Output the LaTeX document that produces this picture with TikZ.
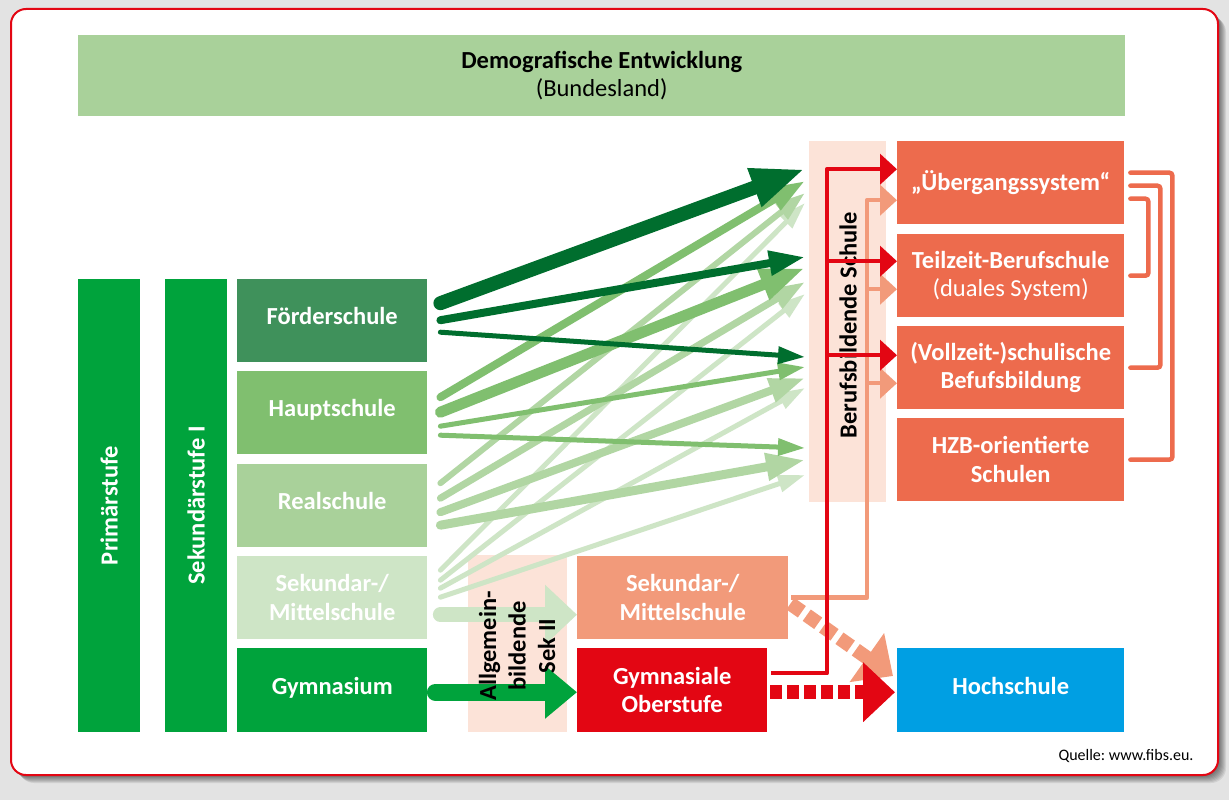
\documentclass[tikz,border=0pt]{standalone}
\usepackage{fontspec}
\setmainfont{Carlito}
\usetikzlibrary{arrows.meta,calc}
\frenchspacing

\definecolor{bggray}{HTML}{E3E3E3}
\definecolor{framered}{HTML}{E30613}
\definecolor{topgreen}{HTML}{A9D19A}
\definecolor{mgreen}{HTML}{00A33C}
\definecolor{fgreen}{HTML}{3F915B}
\definecolor{hgreen}{HTML}{80BF6F}
\definecolor{rgreen}{HTML}{A9D19A}
\definecolor{sgreen}{HTML}{CEE5C6}
\definecolor{adark}{HTML}{006E2E}
\definecolor{areal}{HTML}{B1D6A3}
\definecolor{peach}{HTML}{FCE3D8}
\definecolor{salmon}{HTML}{F29A7A}
\definecolor{rred}{HTML}{E30613}
\definecolor{orng}{HTML}{ED6B4D}
\definecolor{hblue}{HTML}{009FE3}

\newcommand{\diafont}{\fontsize{24.5}{28.5}\selectfont}

\tikzset{
  box/.style={fill=#1, text=white, font=\diafont\bfseries, align=center,
    inner sep=0pt, anchor=north west, minimum width=190pt},
  oneline/.style={text depth=9pt},
  vbar/.style={fill=mgreen, text=white, font=\diafont\bfseries, rotate=90,
    inner sep=0pt, minimum width=453pt, minimum height=62pt},
  pbar/.style={fill=peach, inner sep=0pt, anchor=north west},
  fan/.style={line width=#1, line cap=round,
    -{Triangle[length=12pt 3, width=5pt 2.3]}},
  bigarr/.style={line cap=round, -{Triangle[length=32pt, width=#1]}},
  dline/.style={line width=14pt, -{Triangle[length=32pt, width=58pt]}},
  rline/.style={draw=rred, line width=4.5pt, line join=round,
    -{Triangle[length=17pt, width=30pt]}},
  sline/.style={draw=salmon, line width=4.5pt, line join=round,
    -{Triangle[length=17pt, width=30pt]}},
  bracket/.style={draw=orng, line width=4.5pt, line cap=round, rounded corners=3pt},
}

\begin{document}
\begin{tikzpicture}[x=1pt, y=-1pt]
  \useasboundingbox (0,0) rectangle (1229,800);
  \fill[bggray] (0,0) rectangle (1229,800);
  % card with its shadow
  \foreach \i in {1,...,8}
    \fill[black, opacity=0.08, rounded corners=15pt] (11+\i,9+\i) rectangle (1218+\i,775+\i);
  \draw[framered, line width=2pt, fill=white, rounded corners=15pt] (11,9) rectangle (1218,775);

  % top bar
  \node[fill=topgreen, minimum width=1047pt, minimum height=81pt, inner sep=0pt,
    anchor=north west, align=center, font=\diafont] (demo) at (78,35)
    {\textbf{Demografische Entwicklung}\\(Bundesland)};

  % left columns
  \node[vbar] (prim) at (109,505.5) {Primärstufe};
  \node[vbar] (sek1) at (196,505.5) {Sekundärstufe I};

  \node[box=fgreen, oneline, minimum height=83pt] (foerder) at (237,279) {Förderschule};
  \node[box=hgreen, oneline, minimum height=83pt] (haupt) at (237,371) {Hauptschule};
  \node[box=rgreen, oneline, minimum height=83pt] (real) at (237,464) {Realschule};
  \node[box=sgreen, minimum height=83pt] (sek) at (237,556) {Sekundar-/\\Mittelschule};
  \node[box=mgreen, oneline, minimum height=84pt] (gym) at (237,648) {Gymnasium};

  % Sek II and vocational school strips
  \node[pbar, minimum width=99pt, minimum height=177pt] (agbar) at (468,555) {};
  \node[pbar, minimum width=77pt, minimum height=361pt] (bbs) at (809,141) {};
  \node[rotate=90, font=\diafont\bfseries] (bbstext) at (848,325) {Berufsbildende Schule};

  \node[box=salmon, minimum width=211pt, minimum height=83pt] (osek) at (577,556) {Sekundar-/\\Mittelschule};
  \node[box=rred, minimum height=84pt] (gymo) at (577,648) {Gymnasiale\\Oberstufe};
  \node[box=hblue, oneline, minimum width=227pt, minimum height=84pt] (hoch) at (897,648) {Hochschule};

  \node[box=orng, minimum width=227pt, minimum height=83pt] (ueber) at (897,141) {„Übergangssystem“};
  \node[box=orng, minimum width=227pt, minimum height=83pt] (teil) at (897,234)
    {Teilzeit-Berufschule\\\mdseries(duales System)};
  \node[box=orng, minimum width=227pt, minimum height=83pt] (voll) at (897,326)
    {(Vollzeit-)schulische\\Befufsbildung};
  \node[box=orng, minimum width=227pt, minimum height=83pt] (hzb) at (897,418)
    {HZB-orientierte\\Schulen};

  % arrow targets in front of the vocational strip
  \foreach \k/\y in {a/169,b/181,c/193,d/203,e/257,f/268,g/282,h/294,
      i/357,j/367,k/378,l/388,m/448,n/460,o/475}
    \coordinate (t\k) at (805,\y);

  % fans
  \foreach \dy/\t in {-27.5/d,-17.5/h,-9.5/l,-0.5/o}
    \draw[fan=5pt, sgreen] ($(sek.east)+(13,\dy)$) -- (t\t);
  \foreach \dy/\t/\w in {-22.5/c/6,-7.5/g/7,6.5/k/8,19.5/n/9}
    \draw[fan=\w pt, areal] ($(real.east)+(13,\dy)$) -- (t\t);
  \foreach \dy/\t/\w in {-15.5/b/8,-0.5/f/11,13.5/j/5,22.5/m/5}
    \draw[fan=\w pt, hgreen] ($(haupt.east)+(13,\dy)$) -- (t\t);
  \foreach \dy/\t/\w in {-17.5/a/14,-0.5/e/8,11.5/i/5}
    \draw[fan=\w pt, adark] ($(foerder.east)+(13,\dy)$) -- (t\t);

  % into Sek II
  \draw[bigarr=58pt, sgreen, line width=15pt] ($(sek.east)+(13,17)$) -- ($(osek.west)+(0,17)$);
  \draw[bigarr=51pt, mgreen, line width=17pt] ($(gym.east)+(8,2)$) -- ($(gymo.west)+(0,2)$);
  \node[rotate=90, align=center, font=\fontsize{24.5}{29.5}\selectfont\bfseries] (agtext)
    at (517,646) {Allgemein-\\bildende\\Sek II};

  % to the Hochschule
  \draw[dline, salmon, dash pattern=on 14pt off 6pt] ($(osek.east)+(2,6)$) -- ($(hoch.north west)+(-4,28)$);
  \draw[dline, rred, dash pattern=on 12pt off 5pt] ($(gymo.east)+(3,2)$) -- ($(hoch.west)+(-2,2)$);

  % into the vocational schools
  \draw[sline] ($(osek.east)+(3,0)$) -| ($(ueber.west)+(-30,17.5)$) -- ($(ueber.west)+(0,17.5)$);
  \draw[sline] ($(teil.west)+(-30,13.5)$) -- ++(30,0);
  \draw[sline] ($(voll.west)+(-30,15.5)$) -- ++(30,0);
  \draw[rline] ($(gymo.east)+(4,-17)$) -| ($(ueber.west)+(-70,-13.5)$) -- ($(ueber.west)+(0,-13.5)$);
  \draw[rline] ($(teil.west)+(-70,-14.5)$) -- ++(70,0);
  \draw[rline] ($(voll.west)+(-70,-12.5)$) -- ++(70,0);

  % brackets on the right
  \draw[bracket] ($(ueber.east)+(6,-10)$) -- ++(42,0) |- ($(hzb.east)+(6,0)$);
  \draw[bracket] ($(ueber.east)+(6,3)$) -- ++(30,0) |- ($(voll.east)+(6,0)$);
  \draw[bracket] ($(ueber.east)+(6,16)$) -- ++(18,0) |- ($(teil.east)+(6,0)$);

  \node[anchor=east, font=\fontsize{16}{18}\selectfont] (quelle) at (1197,756) {Quelle: www.fibs.eu.};
\end{tikzpicture}
\end{document}
